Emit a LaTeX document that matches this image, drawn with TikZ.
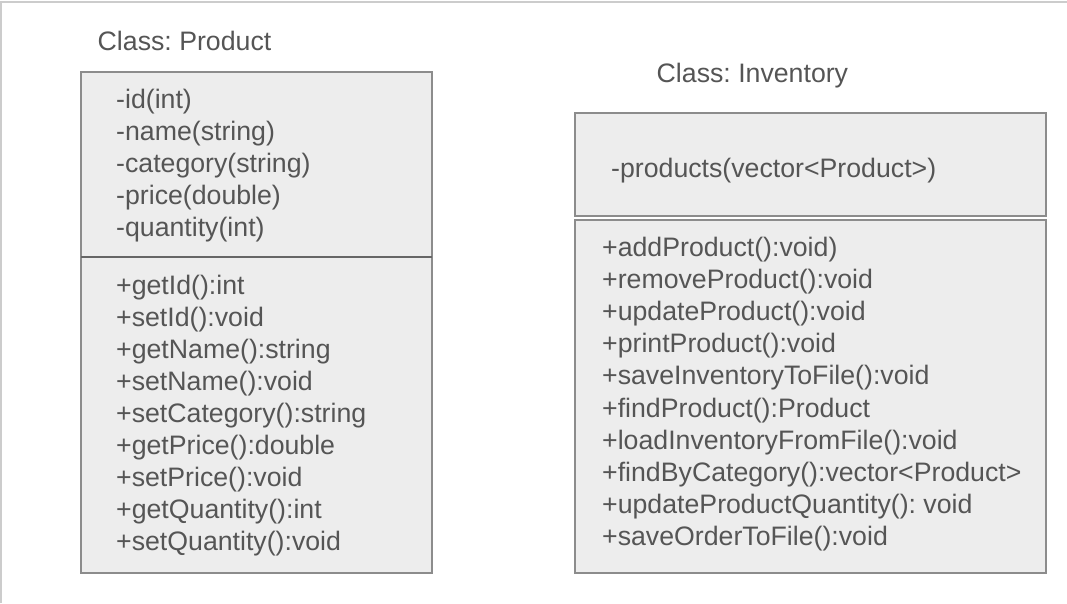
\documentclass[tikz,border=0pt]{standalone}
\usepackage{fontspec}
\setmainfont{Liberation Sans}
\frenchspacing
\definecolor{txt}{HTML}{555555}
\definecolor{boxfill}{HTML}{EDEDED}
\definecolor{boxline}{HTML}{8C8C8C}
\definecolor{frameline}{HTML}{CCCCCC}
\begin{document}
\begin{tikzpicture}[x=1pt,y=-1pt,
  umlbox/.style={draw=boxline,fill=boxfill,line width=1.2pt},
  divline/.style={draw=black!60,line width=1.2pt},
  umltext/.style={anchor=base west,inner sep=0pt,align=left,text=txt,
    font=\fontsize{26.7}{32.15}\selectfont\frenchspacing},
  title/.style={umltext}]
\useasboundingbox (0,0) rectangle (1067,603);
\draw[frameline,line width=1.2pt] (1,603) -- (1,2) -- (1067,2);
% Product
\node[title] (tp) at (97.5,50.7) {Class: Product};
\path[umlbox] (81,72) rectangle (432,573);
\coordinate (pl) at (81,257);
\coordinate (pr) at (432,257);
\draw[divline] (pl) -- (pr);
% base anchor = baseline of the last line
\node[umltext] (pa) at (116,236.6) {-id(int)\\-name(string)\\-category(string)\\-price(double)\\-quantity(int)};
\node[umltext,font=\fontsize{26.7}{32.0}\selectfont\frenchspacing] (pm) at (116,550) {+getId():int\\+setId():void\\+getName():string\\+setName():void\\+setCategory():string\\+getPrice():double\\+setPrice():void\\+getQuantity():int\\+setQuantity():void};
% Inventory
\node[title] (ti) at (656.5,82) {Class: Inventory};
\path[umlbox] (575,113) rectangle (1046,216);
\path[umlbox] (575,220) rectangle (1046,573);
\node[umltext] (ia) at (611,177) {-products(vector<Product>)};
\node[umltext,font=\fontsize{26.7}{32.2}\selectfont\frenchspacing] (im) at (602,545.8) {+addProduct():void)\\+removeProduct():void\\+updateProduct():void\\+printProduct():void\\+saveInventoryToFile():void\\+findProduct():Product\\+loadInventoryFromFile():void\\+findByCategory():vector<Product>\\+updateProductQuantity(): void\\+saveOrderToFile():void};
\end{tikzpicture}
\end{document}
